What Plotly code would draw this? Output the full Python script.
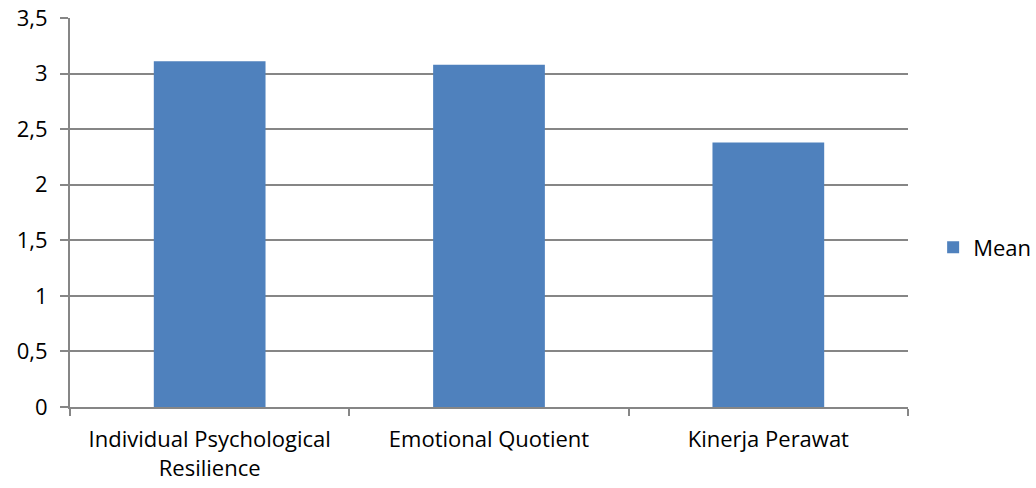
import plotly.graph_objects as go

categories = ["Individual Psychological<br>Resilience", "Emotional Quotient", "Kinerja Perawat"]
mean_values = [3.11, 3.08, 2.38]
y_ticks = [0, 0.5, 1, 1.5, 2, 2.5, 3, 3.5]
y_tick_labels = ["0", "0,5", "1", "1,5", "2", "2,5", "3", "3,5"]

grid = "#868686"
fig = go.Figure()
fig.add_trace(go.Bar(x=categories, y=mean_values, name="Mean",
                     marker=dict(color="#4F81BD", line=dict(width=0)),
                     showlegend=True))
fig.update_layout(
    width=1036, height=488,
    margin=dict(l=70, r=128, t=18, b=81, autoexpand=False),
    paper_bgcolor="white", plot_bgcolor="white",
    font=dict(family="Open Sans, sans-serif", size=22, color="#000000"),
    bargap=0.6,
    showlegend=True,
    legend=dict(x=1.03, y=0.41, xanchor="left", yanchor="middle",
                font=dict(size=22), itemwidth=30, bgcolor="rgba(0,0,0,0)"),
)
fig.update_xaxes(showline=True, linecolor=grid, linewidth=2,
                 ticks="outside", ticklen=7, tickcolor=grid, tickwidth=2,
                 tickson="boundaries", showgrid=False, automargin=False,
                 ticklabelstandoff=12)
fig.update_yaxes(range=[0, 3.5], tickvals=y_ticks, ticktext=y_tick_labels,
                 showline=True, linecolor=grid, linewidth=2,
                 ticks="outside", ticklen=8, tickcolor=grid, tickwidth=2,
                 showgrid=True, gridcolor=grid, gridwidth=2,
                 zeroline=False, ticklabelstandoff=8, automargin=False)
fig.write_html("out.html")
